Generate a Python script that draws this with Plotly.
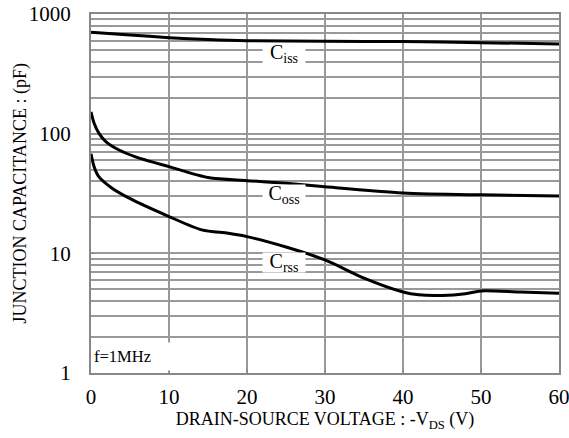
import math
import plotly.graph_objects as go

# Data
vds_iss = [0, 5, 10, 15, 20, 30, 40, 50, 60]
ciss = [705, 668, 634, 612, 598, 592, 588, 576, 562]

vds_oss = [0, 0.4, 1, 1.9, 3.6, 5.7, 10, 15, 20, 25, 30, 40, 50, 60]
coss = [152, 122, 101, 86, 73, 64, 53, 43, 40.5, 38.5, 36, 32, 30.8, 30.2]

vds_rss = [0, 0.4, 1, 2.7, 4.9, 10, 14.2, 17.6, 20, 25, 30, 35, 40, 42, 45, 48, 50, 55, 60]
crss = [68, 53, 43.7, 35, 28.9, 20.3, 15.7, 14.7, 13.8, 11.3, 8.8, 6.2, 4.75, 4.5, 4.45, 4.6, 4.85, 4.75, 4.65]

labels = ["C<sub>iss</sub>", "C<sub>oss</sub>", "C<sub>rss</sub>"]
label_x = [24.7, 24.7, 24.7]
label_y = [464, 30.8, 8.4]

x_ticks = [0, 10, 20, 30, 40, 50, 60]
y_ticks = [1, 10, 100, 1000]

x_title = "DRAIN-SOURCE VOLTAGE : -V<sub>DS</sub> (V)"
y_title = "JUNCTION CAPACITANCE : (pF)"

FONT = "Liberation Serif, Times New Roman, serif"
GRID = "#999999"

fig = go.Figure()
for xs, ys in [(vds_iss, ciss), (vds_oss, coss), (vds_rss, crss)]:
    fig.add_trace(go.Scatter(x=xs, y=ys, mode="lines",
                             line=dict(color="black", width=3, shape="spline", smoothing=0.8),
                             showlegend=False, hoverinfo="skip"))

for t, lx, ly in zip(labels, label_x, label_y):
    fig.add_annotation(x=lx, y=math.log10(ly), text=t, showarrow=False,
                       font=dict(family=FONT, size=20, color="black"),
                       bgcolor="white", width=42, height=19, borderpad=0)

fig.add_annotation(xref="paper", yref="paper", x=0, y=0, xanchor="left", yanchor="bottom",
                   xshift=2, yshift=2, text="f=1MHz", showarrow=False, align="left",
                   font=dict(family=FONT, size=16.5, color="black"),
                   bgcolor="white", width=78, height=27, borderpad=0)

# y-axis title as rotated text
fig.add_annotation(xref="paper", yref="paper", x=0, y=0.5, xshift=-71, xanchor="center",
                   yanchor="middle", textangle=-90, text=y_title, showarrow=False,
                   font=dict(family=FONT, size=18, color="black"))

fig.update_layout(
    width=569, height=438,
    margin=dict(l=91, r=10, t=14, b=65),
    paper_bgcolor="white", plot_bgcolor="white",
    font=dict(family=FONT, color="black"),
    xaxis=dict(range=[0, 60], tickvals=x_ticks, ticktext=[str(v) for v in x_ticks],
               automargin=False, ticklabelstandoff=4, ticklabeloverflow="allow",
               showgrid=True, gridcolor=GRID, gridwidth=1.5,
               showline=True, mirror=True, linecolor="#888888", linewidth=2,
               ticks="inside", ticklen=4, tickcolor="#888888",
               zeroline=False, tickfont=dict(size=21, family=FONT),
               title=dict(text=x_title, font=dict(size=18, family=FONT), standoff=2)),
    yaxis=dict(type="log", range=[0, 3], tickvals=y_ticks, ticktext=[str(v) for v in y_ticks],
               automargin=False, ticklabelstandoff=14, ticklabeloverflow="allow",
               showgrid=True, gridcolor=GRID, gridwidth=1.5,
               minor=dict(dtick="D1", showgrid=True, gridcolor=GRID, gridwidth=1.5),
               showline=True, mirror=True, linecolor="#888888", linewidth=2,
               ticks="inside", ticklen=4, tickcolor="#888888",
               zeroline=False, tickfont=dict(size=21, family=FONT)),
)

fig.write_html("out.html", config={"displayModeBar": False},
               post_script="document.body.style.margin='0';")
